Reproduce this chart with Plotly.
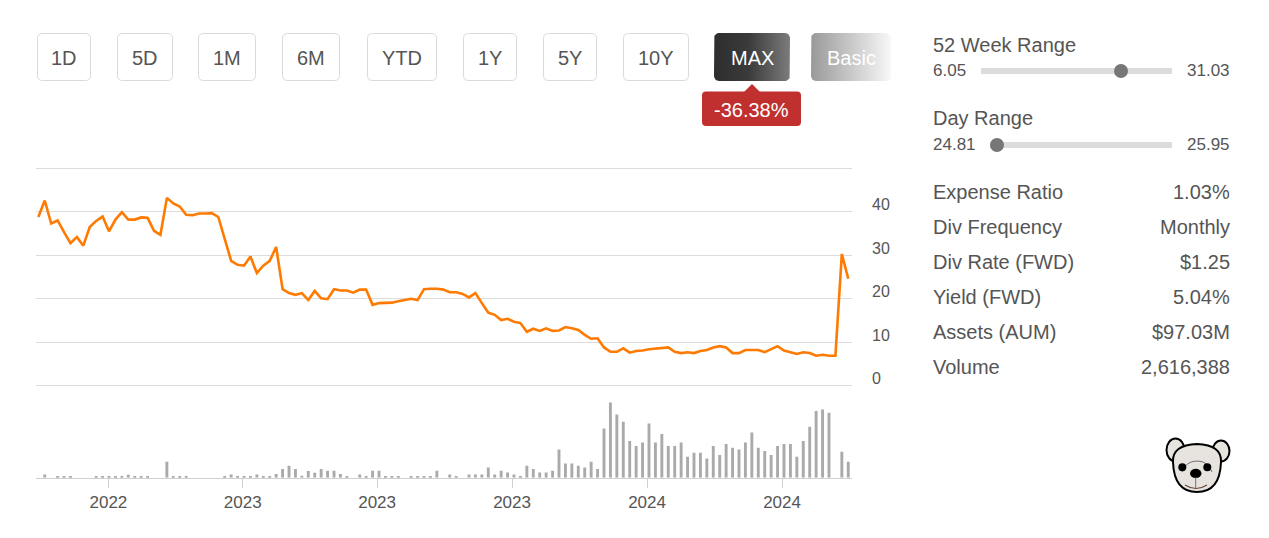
import math
import plotly.graph_objects as go

W, H = 1269, 538
FONT = "Liberation Sans, Arial, Helvetica, sans-serif"
TXT = "#555555"

# ---------------- data ----------------
price = [
    38.8, 42.6, 37.3, 38.0, 35.3, 32.8, 34.2, 32.2, 36.5, 37.9,
    38.9, 35.5, 38.2, 39.9, 38.2, 38.2, 38.7, 38.6, 35.6, 34.7,
    43.2, 41.9, 41.2, 39.3, 39.2, 39.6, 39.6, 39.7, 38.8, 33.6,
    28.7, 27.8, 27.6, 29.7, 25.9, 27.6, 28.7, 31.9, 22.2, 21.3,
    20.9, 21.3, 19.7, 21.8, 20.1, 19.9, 22.2, 21.9, 21.9, 21.4,
    22.1, 22.1, 18.6, 19.0, 19.0, 19.1, 19.4, 19.7, 20.0, 19.7,
    22.2, 22.3, 22.3, 22.1, 21.5, 21.5, 21.1, 20.3, 21.3, 19.0,
    16.8, 16.3, 15.1, 15.4, 14.7, 14.4, 12.4, 13.1, 12.6, 13.2,
    12.6, 12.7, 13.5, 13.2, 12.8, 11.7, 10.8, 10.9, 8.8, 7.8,
    7.8, 8.6, 7.6, 8.0, 8.1, 8.4, 8.5, 8.6, 8.8, 7.8,
    7.5, 7.7, 7.5, 8.0, 8.2, 8.8, 9.1, 8.8, 7.5, 7.5,
    8.2, 8.2, 8.2, 7.7, 8.4, 9.1, 8.1, 7.7, 7.3, 7.7,
    7.5, 6.9, 7.1, 6.9, 6.9, 30.3, 24.6,
]

volume = [
    None, 3.3, None, 1.5, 1.5, 1.5, None, None, None, 1.5,
    1.5, 1.5, 1.5, 1.5, 3.0, 1.5, 1.5, 1.5, None, None,
    16.0, 1.5, 1.5, 1.5, None, None, None, None, None, 1.7,
    3.3, 1.7, 1.7, 1.7, 3.3, 1.7, 1.7, 3.7, 8.7, 12.0,
    8.7, 2.0, 6.7, 5.0, 8.7, 7.0, 7.0, 3.7, 1.7, None,
    3.3, 1.7, 7.0, 7.0, 1.7, 1.7, 1.7, None, 1.7, 1.7,
    1.7, 1.7, 7.0, None, 3.3, 1.7, None, 3.3, 3.3, 3.3,
    10.3, 3.3, 7.0, 5.3, 3.3, 1.7, 12.0, 8.7, 5.3, 5.3,
    7.0, 28.3, 14.3, 14.3, 12.0, 10.3, 16.0, 8.7, 49.3, 75.3,
    63.3, 56.0, 36.7, 31.7, 35.3, 54.3, 35.3, 43.7, 31.7, 31.7,
    35.3, 21.0, 25.0, 25.0, 19.3, 31.7, 22.7, 33.7, 30.0, 28.3,
    35.3, 45.3, 30.0, 26.7, 22.7, 31.7, 33.7, 33.7, 21.0, 36.7,
    51.0, 66.7, 68.3, 65.0, None, 26.0, 16.0,
]

x_tick_pos = [10.9, 31.8, 52.7, 73.7, 94.7, 115.7]
x_tick_text = ["2022", "2023", "2023", "2023", "2024", "2024"]
y_tick_vals = [0, 10, 20, 30, 40, 50]
y_tick_text = ["0", "10", "20", "30", "40", ""]

period_buttons = ["1D", "5D", "1M", "6M", "YTD", "1Y", "5Y", "10Y"]
period_change = "-36.38%"

range_52w = (6.05, 31.03)
range_day = (24.81, 25.95)
stat_labels = ["Expense Ratio", "Div Frequency", "Div Rate (FWD)",
               "Yield (FWD)", "Assets (AUM)", "Volume"]
stat_values = ["1.03%", "Monthly", "$1.25", "5.04%", "$97.03M", "2,616,388"]

idx = list(range(len(price)))

# ---------------- figure ----------------
fig = go.Figure()
fig.add_trace(go.Scatter(
    x=idx, y=price, mode="lines", xaxis="x", yaxis="y",
    line=dict(color="#ff7a00", width=2.6), hoverinfo="skip"))
fig.add_trace(go.Bar(
    x=idx, y=volume, xaxis="x2", yaxis="y2", width=0.45,
    marker=dict(color="#aaaaaa", line=dict(width=0)), hoverinfo="skip"))


def rr_path(x0, y0, x1, y1, r):
    return (f"M{x0+r},{y0} L{x1-r},{y0} Q{x1},{y0} {x1},{y0+r} "
            f"L{x1},{y1-r} Q{x1},{y1} {x1-r},{y1} L{x0+r},{y1} "
            f"Q{x0},{y1} {x0},{y1-r} L{x0},{y0+r} Q{x0},{y0} {x0+r},{y0} Z")


def rr_points(x0, y0, x1, y1, r, n=8):
    xs, ys = [], []
    corners = [(x1 - r, y0 + r, -90, 0), (x1 - r, y1 - r, 0, 90),
               (x0 + r, y1 - r, 90, 180), (x0 + r, y0 + r, 180, 270)]
    for cx, cy, a0, a1 in corners:
        for k in range(n + 1):
            a = math.radians(a0 + (a1 - a0) * k / n)
            xs.append(cx + r * math.cos(a))
            ys.append(cy + r * math.sin(a))
    xs.append(xs[0]); ys.append(ys[0])
    return xs, ys


shapes = []
annotations = []


def text(x, y, s, size=20, color=TXT, xanchor="center"):
    annotations.append(dict(x=x, y=y, xref="x3", yref="y3", text=s,
                            showarrow=False, xanchor=xanchor, yanchor="middle",
                            font=dict(family=FONT, size=size, color=color)))


# period buttons
btn_x = [(37, 91), (117, 173), (198, 256), (282, 340), (367, 437),
         (463, 517), (543, 597), (623, 689)]
BY0, BY1 = 33, 81
for (x0, x1), lab in zip(btn_x, period_buttons):
    shapes.append(dict(type="path", xref="x3", yref="y3",
                       path=rr_path(x0 + 0.5, BY0 + 0.5, x1 - 0.5, BY1 - 0.5, 5),
                       fillcolor="white", line=dict(color="#dadada", width=1)))
    text((x0 + x1) / 2, (BY0 + BY1) / 2 + 0.5, lab)

# gradient buttons (MAX, Basic)
for (x0, x1), cs, lab in [((714, 790), [[0, "#2e2e2e"], [0.45, "#3a3a3a"], [1, "#7c7c7c"]], "MAX"),
                          ((811, 891), [[0, "#999999"], [1, "#f8f8f8"]], "Basic")]:
    xs, ys = rr_points(x0, BY0, x1, BY1, 5)
    fig.add_trace(go.Scatter(x=xs, y=ys, xaxis="x3", yaxis="y3", mode="lines",
                             fill="toself", line=dict(width=0, color="rgba(0,0,0,0)"),
                             fillgradient=dict(type="horizontal", colorscale=cs),
                             hoverinfo="skip"))
    text((x0 + x1) / 2, (BY0 + BY1) / 2 + 0.5, lab, color="white")

# change badge
shapes.append(dict(type="path", xref="x3", yref="y3",
                   path=rr_path(702, 91.5, 801, 126, 4),
                   fillcolor="#c0302e", line=dict(width=0)))
shapes.append(dict(type="path", xref="x3", yref="y3",
                   path="M744,92 L752,84 L760,92 Z",
                   fillcolor="#c0302e", line=dict(width=0)))
text(751.5, 109.5, period_change, color="white")

# right panel: ranges
RX0, RX1 = 931, 1232


def range_row(y_title, title, y, lo, hi, t0, t1, dot_x):
    text(RX0, y_title, title, size=20, xanchor="left")
    text(RX0, y, f"{lo:.2f}", size=17, xanchor="left")
    text(RX1, y, f"{hi:.2f}", size=17, xanchor="right")
    shapes.append(dict(type="line", xref="x3", yref="y3", x0=t0, x1=t1, y0=y + 1, y1=y + 1,
                       line=dict(color="#dcdcdc", width=6)))
    shapes.append(dict(type="circle", xref="x3", yref="y3",
                       x0=dot_x - 7, x1=dot_x + 7, y0=y + 1 - 7, y1=y + 1 + 7,
                       fillcolor="#777777", line=dict(width=0)))


range_row(45, "52 Week Range", 70, *range_52w, 981, 1172, 1121)
range_row(118, "Day Range", 144, *range_day, 990, 1172, 997)

for i, (lab, val) in enumerate(zip(stat_labels, stat_values)):
    y = 192 + 35 * i
    text(RX0, y, lab, size=20, xanchor="left")
    text(RX1, y, val, size=20, xanchor="right")

# bear icon
BEAR = "#e7e4e0"
for (x0, y0, x1, y1) in [(1166.5, 438.5, 1184.5, 461.5), (1212.5, 440.5, 1229.5, 461.5)]:
    shapes.append(dict(type="circle", xref="x3", yref="y3", x0=x0, y0=y0, x1=x1, y1=y1,
                       fillcolor=BEAR, line=dict(color="black", width=2)))
shapes.append(dict(type="path", xref="x3", yref="y3",
                   path="M1173,462 Q1172,445 1197,444 Q1222,445 1221,462 "
                        "Q1220,492 1197,492 Q1174,492 1173,462 Z",
                   fillcolor=BEAR, line=dict(color="black", width=2)))
shapes.append(dict(type="path", xref="x3", yref="y3",
                   path="M1182,472 Q1186,461 1197,461 Q1208,461 1212,472",
                   line=dict(color="#555555", width=0.8)))
for cx in (1182.3, 1207.3):
    shapes.append(dict(type="circle", xref="x3", yref="y3", x0=cx - 4, x1=cx + 4,
                       y0=463.3, y1=471.3, fillcolor="black", line=dict(width=0)))
shapes.append(dict(type="circle", xref="x3", yref="y3", x0=1190, x1=1201.5,
                   y0=468.8, y1=478, fillcolor="black", line=dict(width=0)))
shapes.append(dict(type="path", xref="x3", yref="y3",
                   path="M1185,485 Q1196,492 1207,485",
                   line=dict(color="#6b4a3a", width=1.2)))
shapes.append(dict(type="line", xref="x3", yref="y3", x0=1195.7, x1=1195.7,
                   y0=477, y1=488.5, line=dict(color="#555555", width=0.8)))

XDOM = [36 / W, 852 / W]
XRANGE = [-0.36, 126.58]
PAD = 0.3
PXU = (385.7 - 168.3) / 50.0

fig.update_layout(
    width=W, height=H, margin=dict(l=0, r=0, t=0, b=0),
    paper_bgcolor="white", plot_bgcolor="rgba(0,0,0,0)", showlegend=False,
    font=dict(family=FONT, color=TXT),
    xaxis=dict(domain=XDOM, range=XRANGE, anchor="y", showticklabels=False,
               showgrid=False, zeroline=False, showline=False, fixedrange=True),
    yaxis=dict(domain=[1 - (385.7 + PAD * PXU) / H, 1 - (168.3 - PAD * PXU) / H],
               range=[-PAD, 50 + PAD], anchor="x",
               side="right", tickvals=y_tick_vals, ticktext=y_tick_text,
               gridcolor="#dddddd", gridwidth=1, zeroline=False, showline=False,
               ticks="", ticklabelposition="outside top", ticklabelstandoff=19,
               ticklabelshift=4,
               tickfont=dict(family=FONT, size=16, color=TXT), fixedrange=True),
    xaxis2=dict(domain=XDOM, range=XRANGE, anchor="y2", showline=True,
                linecolor="#d0d0d0", linewidth=1, ticks="outside", ticklen=9,
                tickcolor="#d0d0d0", tickwidth=1, tickvals=x_tick_pos,
                ticktext=x_tick_text, tickfont=dict(family=FONT, size=17, color=TXT),
                showgrid=False, zeroline=False, fixedrange=True),
    yaxis2=dict(domain=[1 - 477.7 / H, 1 - 398 / H], range=[0, 79.7], anchor="x2",
                visible=False, fixedrange=True),
    xaxis3=dict(domain=[0, 1], range=[0, W], anchor="y3", visible=False, fixedrange=True),
    yaxis3=dict(domain=[0, 1], range=[H, 0], anchor="x3", visible=False, fixedrange=True),
    shapes=shapes, annotations=annotations,
)

fig.write_html("out.html", config={"displayModeBar": False},
               post_script="document.body.style.margin='0';document.body.style.overflow='hidden';")
